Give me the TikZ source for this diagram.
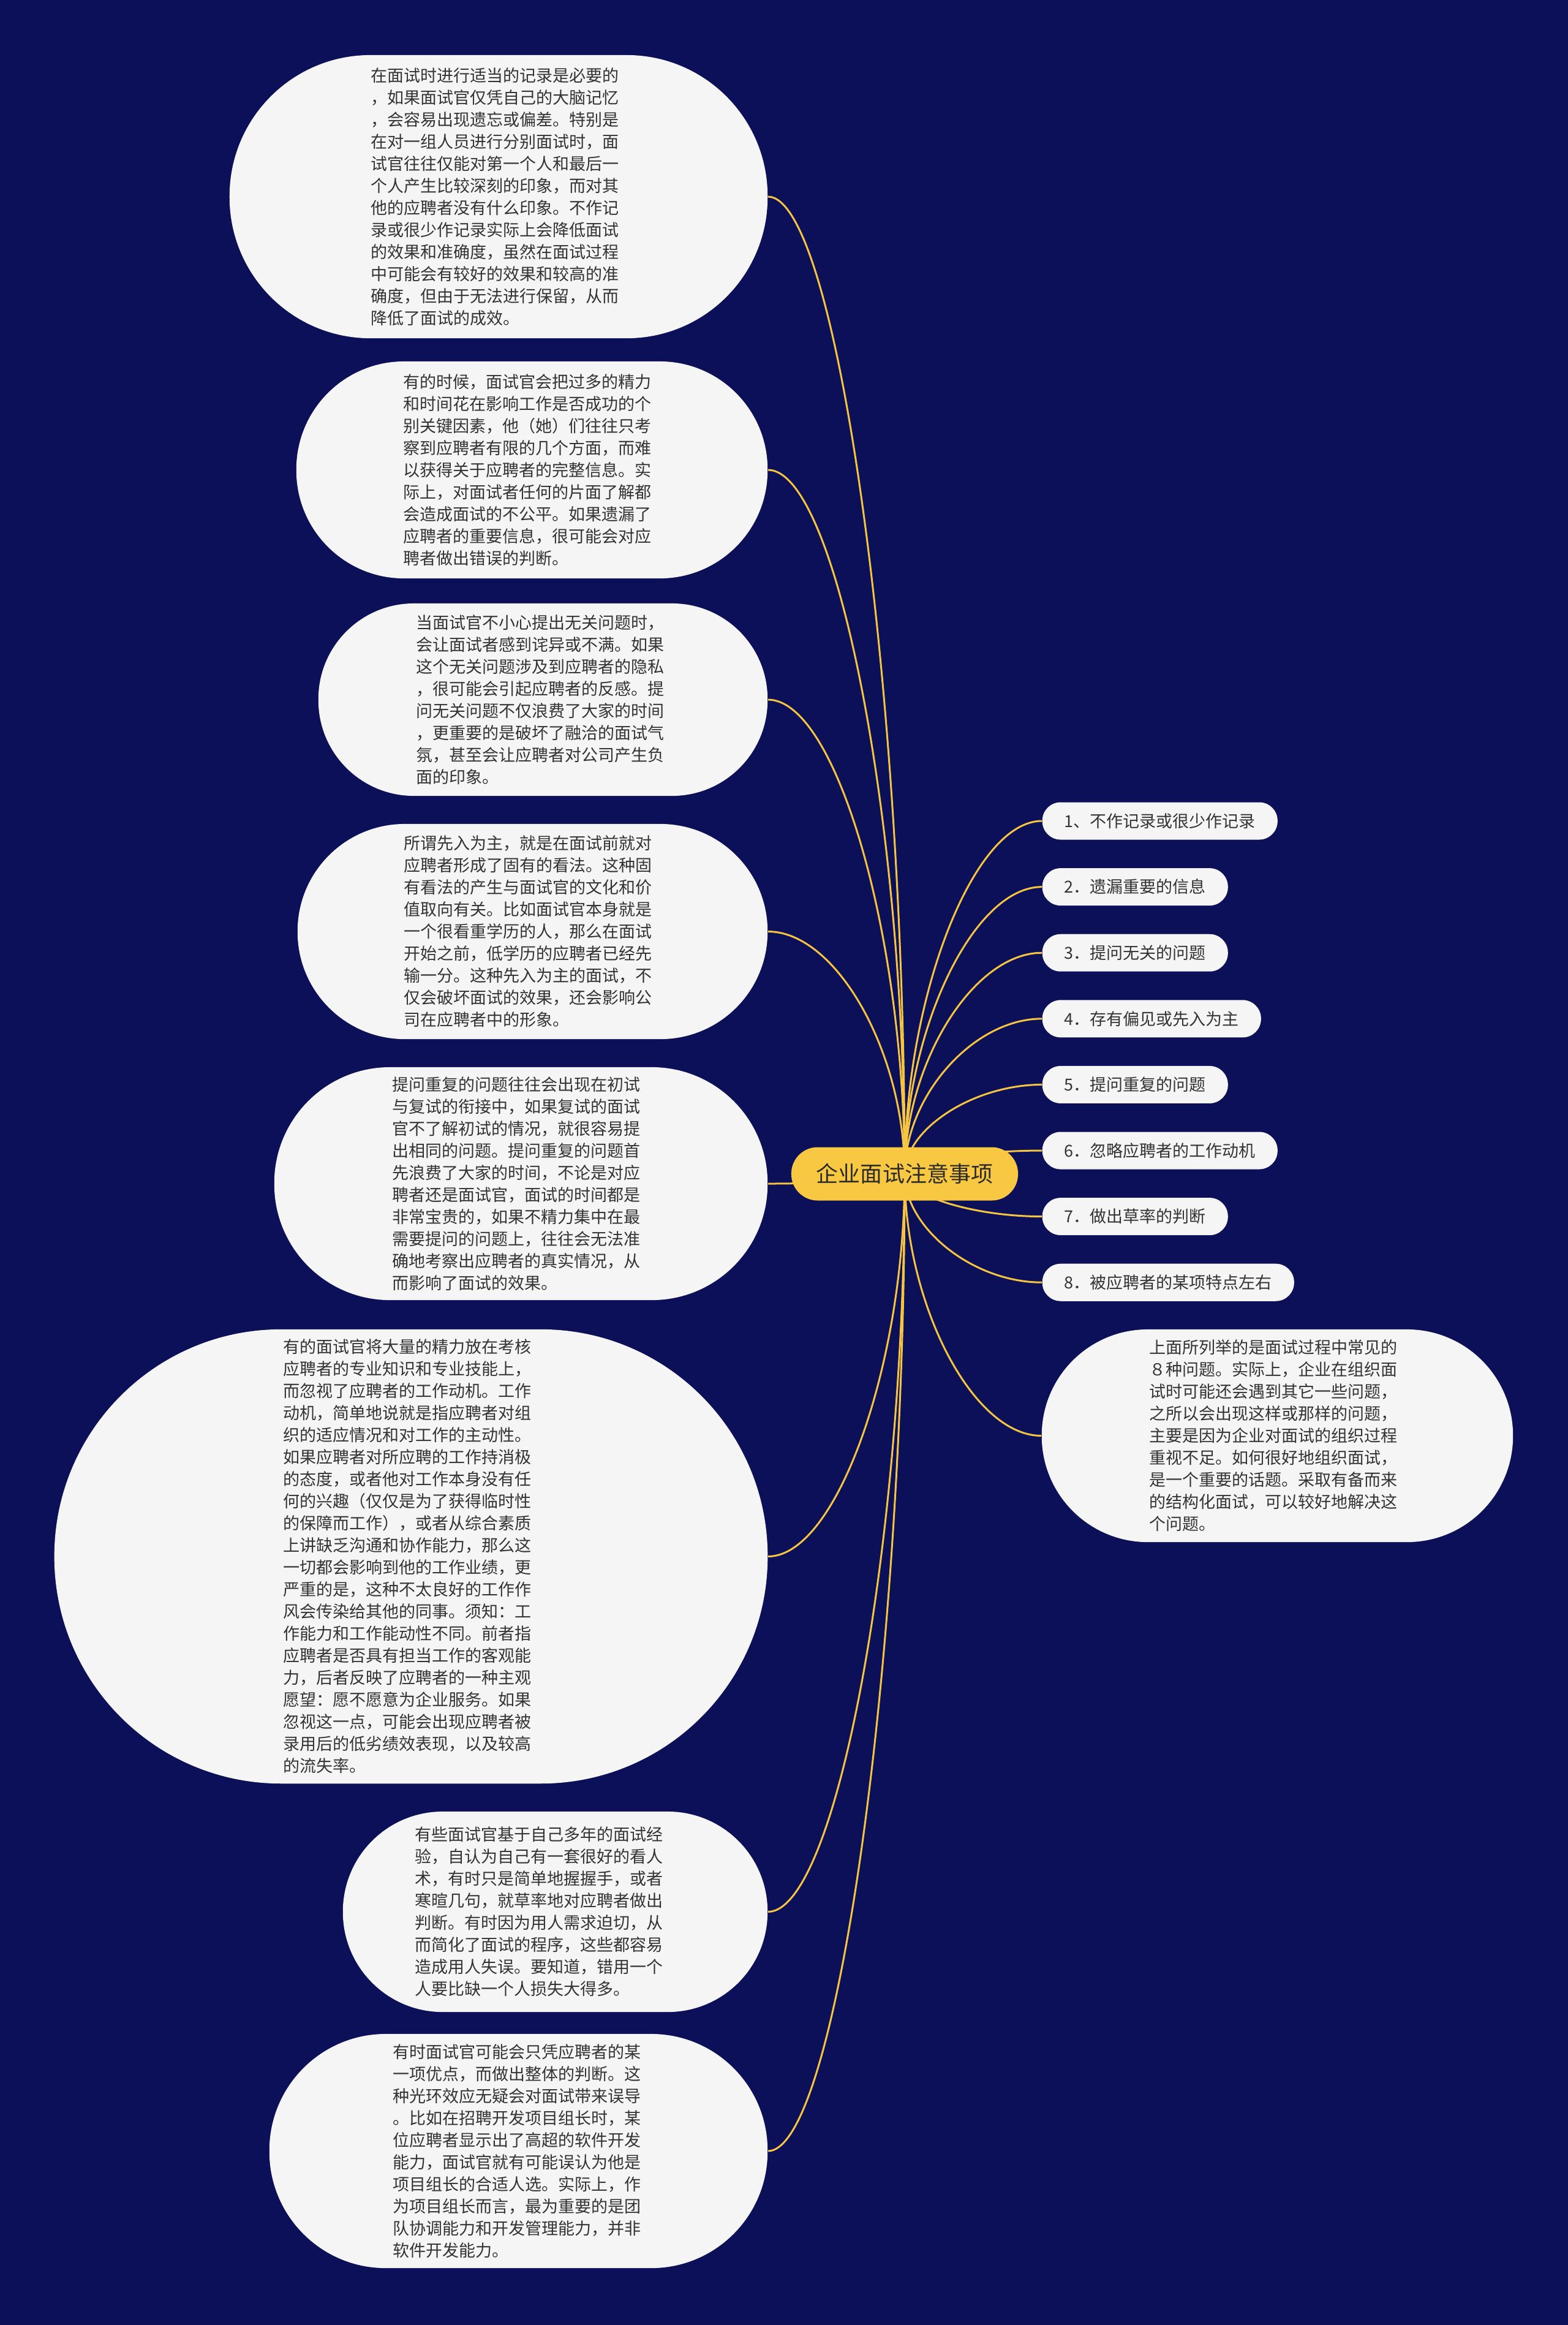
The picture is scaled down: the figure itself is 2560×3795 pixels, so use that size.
\documentclass[tikz,border=0pt]{standalone}
\usepackage{fontspec}
\setmainfont{Noto Sans CJK SC}
\usetikzlibrary{calc}
\definecolor{bgcol}{HTML}{0B1058}
\definecolor{bubblefill}{HTML}{F5F5F5}
\definecolor{textcol}{HTML}{333333}
\definecolor{rootfill}{HTML}{F9C842}
\definecolor{roottext}{HTML}{2B2B2B}
\definecolor{linecol}{HTML}{F5C542}
\pgfdeclarelayer{bgl}
\pgfdeclarelayer{links}
\pgfsetlayers{bgl,links,main}
\newcommand\linkto[2]{\draw[conn] (#1.center) .. controls ($(#1.center)!0.5!(#1.center |- #2)$) and ($(#2)!0.5!(#1.center |- #2)$) .. (#2);}
\tikzset{
  bubble/.style={fill=bubblefill, draw=none, inner sep=0pt},
  btext/.style={text=textcol, align=left, inner sep=0pt, anchor=west,
    font=\fontsize{7.68pt}{10.24pt}\selectfont},
  pill/.style={fill=bubblefill, draw=none, rounded corners=0.30cm, minimum height=0.61cm,
    inner xsep=0.36cm, inner ysep=0pt, anchor=west, text=textcol,
    font=\fontsize{7.68pt}{10.24pt}\selectfont},
  rootnode/.style={fill=rootfill, draw=none, rounded corners=0.43cm, minimum width=3.70cm,
    minimum height=0.87cm, inner sep=0pt, text=roottext,
    font=\fontsize{10.24pt}{12pt}\selectfont},
  conn/.style={draw=linecol, line width=0.03cm}
}
\begin{document}
\begin{tikzpicture}[x=0.01cm,y=-0.01cm]
\useasboundingbox (0,0) rectangle (2560,3795);
\begin{pgfonlayer}{bgl}
\fill[bgcol] (0,0) rectangle (2560,3795);
\end{pgfonlayer}

% left bubbles
\node[bubble, minimum width=8.78cm, minimum height=4.62cm, rounded corners=2.30cm] (b1) at (814,321) {};
\node[btext] (t1) at (605,321) {在面试时进行适当的记录是必要的\\，如果面试官仅凭自己的大脑记忆\\，会容易出现遗忘或偏差。特别是\\在对一组人员进行分别面试时，面\\试官往往仅能对第一个人和最后一\\个人产生比较深刻的印象，而对其\\他的应聘者没有什么印象。不作记\\录或很少作记录实际上会降低面试\\的效果和准确度，虽然在面试过程\\中可能会有较好的效果和较高的准\\确度，但由于无法进行保留，从而\\降低了面试的成效。};

\node[bubble, minimum width=7.69cm, minimum height=3.54cm, rounded corners=1.76cm] (b2) at (868.5,767) {};
\node[btext] (t2) at (658,767) {有的时候，面试官会把过多的精力\\和时间花在影响工作是否成功的个\\别关键因素，他（她）们往往只考\\察到应聘者有限的几个方面，而难\\以获得关于应聘者的完整信息。实\\际上，对面试者任何的片面了解都\\会造成面试的不公平。如果遗漏了\\应聘者的重要信息，很可能会对应\\聘者做出错误的判断。};

\node[bubble, minimum width=7.33cm, minimum height=3.14cm, rounded corners=1.56cm] (b3) at (886.5,1142) {};
\node[btext] (t3) at (679,1142) {当面试官不小心提出无关问题时，\\会让面试者感到诧异或不满。如果\\这个无关问题涉及到应聘者的隐私\\，很可能会引起应聘者的反感。提\\问无关问题不仅浪费了大家的时间\\，更重要的是破坏了融洽的面试气\\氛，甚至会让应聘者对公司产生负\\面的印象。};

\node[bubble, minimum width=7.67cm, minimum height=3.51cm, rounded corners=1.75cm] (b4) at (869.5,1520.5) {};
\node[btext] (t4) at (659,1520.5) {所谓先入为主，就是在面试前就对\\应聘者形成了固有的看法。这种固\\有看法的产生与面试官的文化和价\\值取向有关。比如面试官本身就是\\一个很看重学历的人，那么在面试\\开始之前，低学历的应聘者已经先\\输一分。这种先入为主的面试，不\\仅会破坏面试的效果，还会影响公\\司在应聘者中的形象。};

\node[bubble, minimum width=8.05cm, minimum height=3.80cm, rounded corners=1.89cm] (b5) at (850.5,1932) {};
\node[btext] (t5) at (640,1932) {提问重复的问题往往会出现在初试\\与复试的衔接中，如果复试的面试\\官不了解初试的情况，就很容易提\\出相同的问题。提问重复的问题首\\先浪费了大家的时间，不论是对应\\聘者还是面试官，面试的时间都是\\非常宝贵的，如果不精力集中在最\\需要提问的问题上，往往会无法准\\确地考察出应聘者的真实情况，从\\而影响了面试的效果。};

\node[bubble, minimum width=11.64cm, minimum height=7.41cm, rounded corners=3.70cm] (b6) at (671,2540.5) {};
\node[btext] (t6) at (462,2540.5) {有的面试官将大量的精力放在考核\\应聘者的专业知识和专业技能上，\\而忽视了应聘者的工作动机。工作\\动机，简单地说就是指应聘者对组\\织的适应情况和对工作的主动性。\\如果应聘者对所应聘的工作持消极\\的态度，或者他对工作本身没有任\\何的兴趣（仅仅是为了获得临时性\\的保障而工作），或者从综合素质\\上讲缺乏沟通和协作能力，那么这\\一切都会影响到他的工作业绩，更\\严重的是，这种不太良好的工作作\\风会传染给其他的同事。须知：工\\作能力和工作能动性不同。前者指\\应聘者是否具有担当工作的客观能\\力，后者反映了应聘者的一种主观\\愿望：愿不愿意为企业服务。如果\\忽视这一点，可能会出现应聘者被\\录用后的低劣绩效表现，以及较高\\的流失率。};

\node[bubble, minimum width=6.93cm, minimum height=3.27cm, rounded corners=1.63cm] (b7) at (906.5,3120.5) {};
\node[btext] (t7) at (677,3120.5) {有些面试官基于自己多年的面试经\\验，自认为自己有一套很好的看人\\术，有时只是简单地握握手，或者\\寒暄几句，就草率地对应聘者做出\\判断。有时因为用人需求迫切，从\\而简化了面试的程序，这些都容易\\造成用人失误。要知道，错用一个\\人要比缺一个人损失大得多。};

\node[bubble, minimum width=8.13cm, minimum height=3.82cm, rounded corners=1.90cm] (b8) at (846.5,3511) {};
\node[btext] (t8) at (641,3511) {有时面试官可能会只凭应聘者的某\\一项优点，而做出整体的判断。这\\种光环效应无疑会对面试带来误导\\。比如在招聘开发项目组长时，某\\位应聘者显示出了高超的软件开发\\能力，面试官就有可能误认为他是\\项目组长的合适人选。实际上，作\\为项目组长而言，最为重要的是团\\队协调能力和开发管理能力，并非\\软件开发能力。};

% right bubble
\node[bubble, minimum width=7.69cm, minimum height=3.47cm, rounded corners=1.73cm] (b9) at (2085.5,2343.5) {};
\node[btext] (t9) at (1876,2343.5) {上面所列举的是面试过程中常见的\\８种问题。实际上，企业在组织面\\试时可能还会遇到其它一些问题，\\之所以会出现这样或那样的问题，\\主要是因为企业对面试的组织过程\\重视不足。如何很好地组织面试，\\是一个重要的话题。采取有备而来\\的结构化面试，可以较好地解决这\\个问题。};

% pills
\node[pill] (p1) at (1701,1340) {1、不作记录或很少作记录};
\node[pill] (p2) at (1701,1447.6) {2．遗漏重要的信息};
\node[pill] (p3) at (1701,1555.2) {3．提问无关的问题};
\node[pill] (p4) at (1701,1662.8) {4．存有偏见或先入为主};
\node[pill] (p5) at (1701,1770.4) {5．提问重复的问题};
\node[pill] (p6) at (1701,1878) {6．忽略应聘者的工作动机};
\node[pill] (p7) at (1701,1985.6) {7．做出草率的判断};
\node[pill] (p8) at (1701,2093.2) {8．被应聘者的某项特点左右};

% root
\node[rootnode] (root) at (1477,1916) {企业面试注意事项};

\begin{pgfonlayer}{links}
\linkto{root}{b1.east}
\linkto{root}{b2.east}
\linkto{root}{b3.east}
\linkto{root}{b4.east}
\linkto{root}{b5.east}
\linkto{root}{b6.east}
\linkto{root}{b7.east}
\linkto{root}{b8.east}
\linkto{root}{b9.west}
\linkto{root}{p1.west}
\linkto{root}{p2.west}
\linkto{root}{p3.west}
\linkto{root}{p4.west}
\linkto{root}{p5.west}
\linkto{root}{p6.west}
\linkto{root}{p7.west}
\linkto{root}{p8.west}
\end{pgfonlayer}
\end{tikzpicture}
\end{document}
